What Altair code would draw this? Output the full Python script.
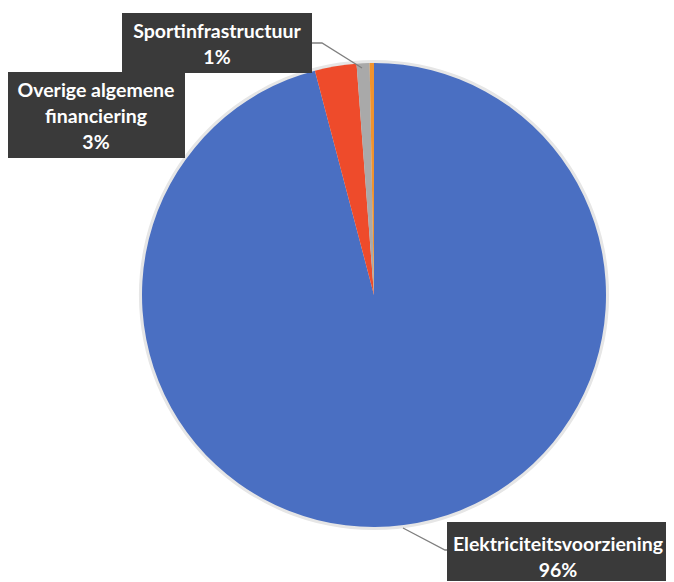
import altair as alt
import pandas as pd
import math

categories = ["Elektriciteitsvoorziening", "Overige algemene financiering", "Sportinfrastructuur", "Overig"]
values = [95.9, 2.9, 0.9, 0.3]
colors = ["#4A6FC2", "#EE4B2B", "#A9A9A9", "#F0932E"]

pie_df = pd.DataFrame({"cat": categories, "val": values, "ord": list(range(len(categories)))})

# label layout (plot coordinates)
label_text = {
    "Elektriciteitsvoorziening": "Elektriciteitsvoorziening",
    "Overige algemene financiering": "Overige algemene\nfinanciering",
    "Sportinfrastructuur": "Sportinfrastructuur",
}
# x1, x2, y1, y2, text centre x, first line centre y
box_layout = {
    "Sportinfrastructuur": (114, 304, 5, 65, 209, 24),
    "Overige algemene financiering": (0, 177, 64, 150, 88, 83),
    "Elektriciteitsvoorziening": (439, 666, 514, 580, 550, 537),
}
rows = []
for c, v in zip(categories, values):
    if c in box_layout:
        x1, x2, y1, y2, tx, ty = box_layout[c]
        rows.append({"x1": x1, "x2": x2, "y1": y1, "y2": y2, "tx": tx, "ty": ty,
                     "txt": label_text[c] + "\n" + f"{round(v)}%"})
lab_df = pd.DataFrame(rows)

leader_df = pd.DataFrame({
    "g": ["a", "a", "a", "b", "b", "b"],
    "o": [0, 1, 2, 0, 1, 2],
    "x": [304, 314, 354, 395, 437, 439],
    "y": [35, 35, 60, 520, 542, 542],
})

CX, CY, R = 366, 287, 232

halo = alt.Chart(pd.DataFrame({"v": [1]})).mark_arc(
    radius=R + 3, theta=0, theta2=2 * math.pi, color="#E6E6E6"
).encode(x=alt.value(CX), y=alt.value(CY))

pie = alt.Chart(pie_df).mark_arc(radius=R).encode(
    theta=alt.Theta("val:Q", stack=True),
    order=alt.Order("ord:Q"),
    color=alt.Color("cat:N", scale=alt.Scale(domain=categories, range=colors), legend=None),
    x=alt.value(CX),
    y=alt.value(CY),
)

leaders = alt.Chart(leader_df).mark_line(color="#7F7F7F", strokeWidth=1.3).encode(
    x=alt.X("x:Q", scale=None), y=alt.Y("y:Q", scale=None), detail="g:N", order="o:Q"
)

boxes = alt.Chart(lab_df).mark_rect(color="#3A3A3A").encode(
    x=alt.X("x1:Q", scale=None), x2="x2:Q", y=alt.Y("y1:Q", scale=None), y2="y2:Q"
)

texts = alt.Chart(lab_df).mark_text(
    color="white", font="Lato", fontWeight="bold", fontSize=19.5, lineBreak="\n",
    lineHeight=26, align="center", baseline="middle"
).encode(
    x=alt.X("tx:Q", scale=None), y=alt.Y("ty:Q", scale=None), text="txt:N"
)

chart = alt.layer(halo, pie, leaders, boxes, texts).properties(
    width=658, height=573, padding=0, autosize="none", background="white"
).configure_view(stroke=None, strokeWidth=0)

chart.save("out.html", embed_options={"renderer": "svg", "actions": False})
